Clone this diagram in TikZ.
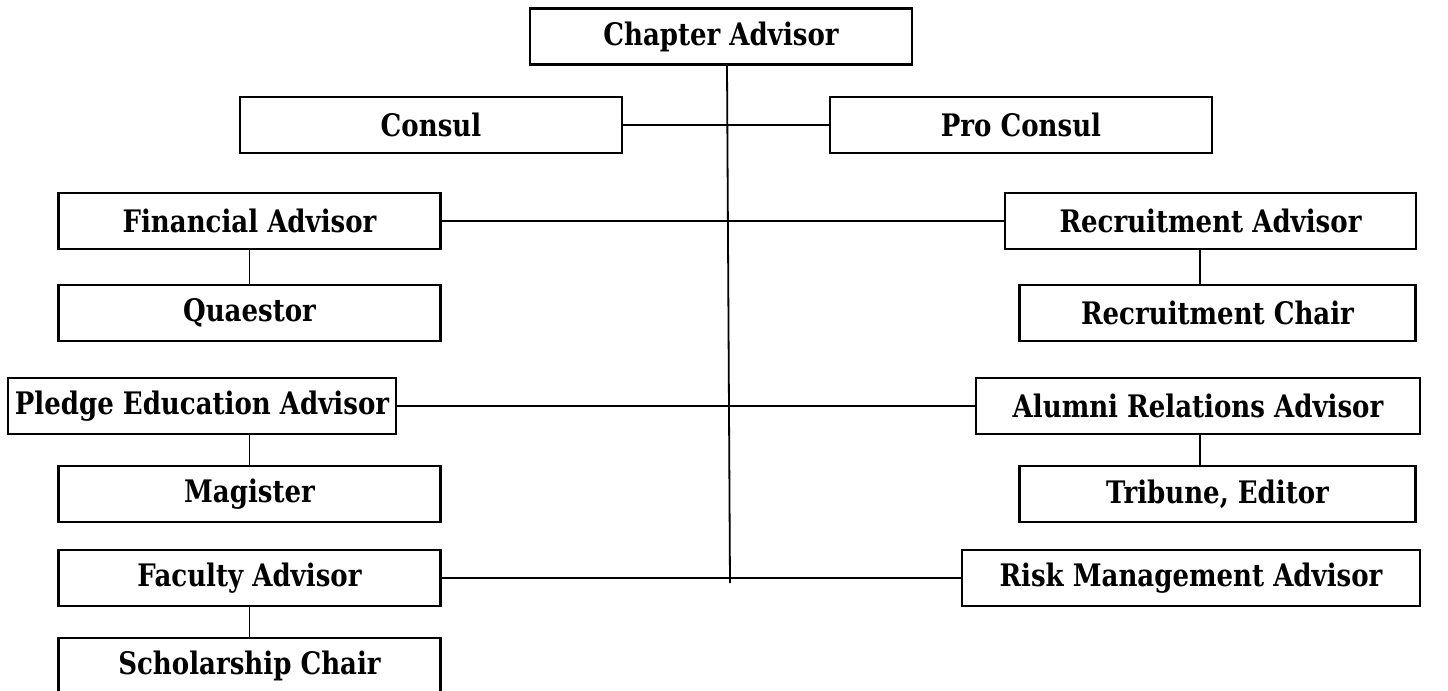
\documentclass[tikz,border=0pt]{standalone}
\usepackage{fontspec}
\setmainfont{DejaVu Serif}[FakeStretch=0.84]
\usepackage{tikz}
\usetikzlibrary{positioning}

\begin{document}
\begin{tikzpicture}[
    x=0.5pt, y=-0.5pt,
    node distance=46pt,
    post/.style={rectangle, draw=black, line width=1.2pt, minimum width=191pt, minimum height=28pt, text centered, font=\fontsize{15.5}{18}\selectfont\bfseries},
    link/.style={draw=black, line width=0.9pt}
]
\useasboundingbox (0,0) rectangle (1448,691);

% Top
\node (chapter) [post] at (721,36.5) {Chapter Advisor};
\node (consul) [post] at (431,125) {Consul};
\node (proconsul) [post] at (1021,125) {Pro Consul};

% Left column
\node (fin) [post] at (249.5,221) {Financial Advisor};
\node (quaestor) [post, below of=fin] {Quaestor};
\node (pledge) [post, minimum width=194pt] at (202,406) {Pledge Education Advisor};
\node (magister) [post] at (249.5,494) {Magister};
\node (faculty) [post] at (249.5,578) {Faculty Advisor};
\node (scholar) [post, below of=faculty, yshift=2pt] {Scholarship Chair};

% Right column
\node (recadv) [post, minimum width=205.5pt] at (1210.5,221) {Recruitment Advisor};
\node (recchair) [post, minimum width=198pt] at (1217.5,313) {Recruitment Chair};
\node (alumni) [post, minimum width=222pt] at (1198,406) {Alumni Relations Advisor};
\node (tribune) [post, minimum width=198pt] at (1217.5,494) {Tribune, Editor};
\node (risk) [post, minimum width=229pt] at (1191,578) {Risk Management Advisor};

% Spine
\coordinate (spinetop) at (727,0);
\coordinate (spinebot) at (730,583);
\coordinate (colR) at (1200,0);

% Lines
\draw [link] (chapter.south -| spinetop) -- (spinebot);
\draw [link] (consul) -- (proconsul);
\draw [link] (fin) -- (recadv);
\draw [link] (pledge) -- (alumni);
\draw [link] (faculty) -- (risk);

\draw [link] (fin) -- (quaestor);
\draw [link] (pledge.south -| magister) -- (magister);
\draw [link] (faculty) -- (scholar);

\draw [link] (recadv.south -| colR) -- (recchair.north -| colR);
\draw [link] (alumni.south -| colR) -- (tribune.north -| colR);

\end{tikzpicture}
\end{document}
